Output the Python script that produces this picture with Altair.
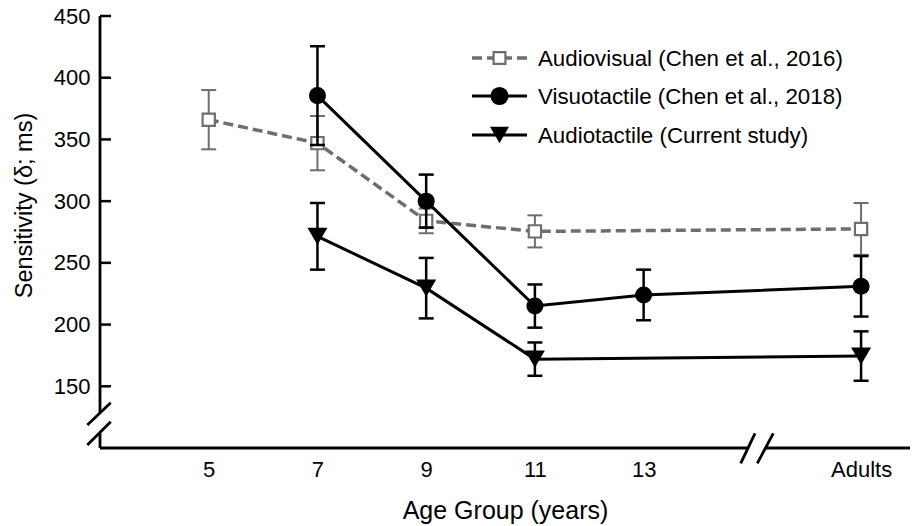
import altair as alt
import pandas as pd

# ---------------- data ----------------
age_labels = ["5", "7", "9", "11", "13", "Adults"]
age_pos = [5, 7, 9, 11, 13, 17]          # position on the (broken) age axis
pos_of = dict(zip(age_labels, age_pos))

series_names = [
    "Audiovisual (Chen et al., 2016)",
    "Visuotactile (Chen et al., 2018)",
    "Audiotactile (Current study)",
]

av_ages = ["5", "7", "9", "11", "Adults"]
av_mean = [366, 347, 284, 275.5, 277.5]
av_err = [24, 22, 10, 13, 21]

vt_ages = ["7", "9", "11", "13", "Adults"]
vt_mean = [385.5, 300, 215, 224, 231]
vt_err = [40, 21.5, 17.5, 20.5, 24.5]

at_ages = ["7", "9", "11", "Adults"]
at_mean = [271.5, 229.5, 172, 174.5]
at_err = [27, 24.5, 13.5, 20]

y_ticks = [150, 200, 250, 300, 350, 400, 450]

# ---------------- styles ----------------
FONT = "Liberation Sans"
GRAY = "#6e6e6e"
W, H = 810, 432

xscale = alt.Scale(domain=[3, 17.9], nice=False, zero=False)
yscale = alt.Scale(domain=[100, 450], nice=False, zero=False)

label_expr = "datum.label"
for p, l in zip(age_pos, age_labels):
    if str(p) != l:
        label_expr = f"datum.value == {p} ? '{l}' : ({label_expr})"

xaxis = alt.Axis(values=age_pos, labelExpr=label_expr, domain=False, ticks=False,
                 tickSize=0, grid=False, labelFontSize=22, labelBaseline="alphabetic",
                 labelPadding=28, labelColor="black", title="Age Group (years)",
                 titleFontSize=25, titleFontWeight="normal", titleColor="black",
                 titleBaseline="alphabetic", titleY=70)
yaxis = alt.Axis(values=y_ticks, domain=False, ticks=False, tickSize=0, grid=False,
                 labelFontSize=22, labelPadding=10, labelColor="black",
                 title="Sensitivity (δ; ms)", titleFontSize=23.5, titleFontWeight="normal",
                 titleColor="black", titleBaseline="alphabetic", titleAlign="center",
                 titleAngle=-90, titleX=-69, titleY=189)


def X():
    return alt.X("x:Q", scale=xscale, axis=xaxis)


def Yf(field):
    return alt.Y(f"{field}:Q", scale=yscale, axis=yaxis)


def series_layers(ages, mean, err, color, shape, dash, lw, ew, size, fill, sw):
    df = pd.DataFrame({
        "age": ages,
        "x": [pos_of[a] for a in ages],
        "mean": mean,
        "lo": [m - e for m, e in zip(mean, err)],
        "hi": [m + e for m, e in zip(mean, err)],
    })
    base = alt.Chart(df)
    line_kw = dict(color=color, strokeWidth=lw)
    if dash:
        line_kw["strokeDash"] = dash
    line = base.mark_line(**line_kw).encode(x=X(), y=Yf("mean"))
    bar = base.mark_rule(color=color, strokeWidth=ew).encode(x=X(), y=Yf("lo"), y2="hi:Q")
    cap_lo = base.mark_tick(orient="horizontal", size=15, thickness=ew, color=color,
                            opacity=1).encode(x=X(), y=Yf("lo"))
    cap_hi = base.mark_tick(orient="horizontal", size=15, thickness=ew, color=color,
                            opacity=1).encode(x=X(), y=Yf("hi"))
    pts = base.mark_point(shape=shape, filled=True, fill=fill, stroke=color,
                          strokeWidth=sw, size=size, opacity=1).encode(x=X(), y=Yf("mean"))
    return [line, bar, cap_lo, cap_hi, pts]


styles = [
    dict(color=GRAY, shape="square", dash=[10, 5], lw=3.5, ew=2, size=150, fill="white", sw=2.2),
    dict(color="black", shape="circle", dash=None, lw=3, ew=2.5, size=290, fill="black", sw=0),
    dict(color="black", shape="triangle-down", dash=None, lw=3, ew=2.5, size=400, fill="black", sw=0),
]

layers = []
layers += series_layers(av_ages, av_mean, av_err, **styles[0])
layers += series_layers(vt_ages, vt_mean, vt_err, **styles[1])
layers += series_layers(at_ages, at_mean, at_err, **styles[2])

# ---------------- axes with breaks ----------------
one = alt.Chart(pd.DataFrame({"k": [0]}))
AX = dict(color="black", strokeWidth=2.8)
axis_parts = [
    # y axis line (broken)
    one.mark_rule(**AX).encode(x=alt.value(0), y=alt.value(0), y2=alt.value(397)),
    one.mark_rule(**AX).encode(x=alt.value(0), y=alt.value(417), y2=alt.value(H)),
    one.mark_rule(**AX).encode(x=alt.value(-12.7), y=alt.value(409), x2=alt.value(10.7), y2=alt.value(386.7)),
    one.mark_rule(**AX).encode(x=alt.value(-12.7), y=alt.value(429), x2=alt.value(10.7), y2=alt.value(405.7)),
    # x axis line (broken)
    one.mark_rule(**AX).encode(x=alt.value(0), x2=alt.value(648), y=alt.value(H)),
    one.mark_rule(**AX).encode(x=alt.value(665), x2=alt.value(W), y=alt.value(H)),
    one.mark_rule(**AX).encode(x=alt.value(640.7), y=alt.value(447.3), x2=alt.value(655), y2=alt.value(417.3)),
    one.mark_rule(**AX).encode(x=alt.value(657.3), y=alt.value(447.3), x2=alt.value(673.3), y2=alt.value(417.3)),
]
yt = alt.Chart(pd.DataFrame({"v": y_ticks})).mark_rule(color="black", strokeWidth=2.5).encode(
    y=alt.Y("v:Q", scale=yscale, axis=yaxis), x=alt.value(0), x2=alt.value(11))
axis_parts.append(yt)

# ---------------- legend ----------------
legend_rows_y = [42, 80, 119]
legend_sizes = [140, 330, 360]
legend_parts = []
for name, st, ly, lsz in zip(series_names, styles, legend_rows_y, legend_sizes):
    lc = alt.Chart(pd.DataFrame({"label": [name]}))
    kw = dict(color=st["color"], strokeWidth=st["lw"])
    if st["dash"]:
        kw["strokeDash"] = st["dash"]
    legend_parts.append(lc.mark_rule(**kw).encode(x=alt.value(372), x2=alt.value(427), y=alt.value(ly)))
    legend_parts.append(lc.mark_point(shape=st["shape"], filled=True, fill=st["fill"], stroke=st["color"],
                                      strokeWidth=st["sw"], size=lsz, opacity=1).encode(
        x=alt.value(399.5), y=alt.value(ly)))
    legend_parts.append(lc.mark_text(align="left", baseline="middle", fontSize=22.3, font=FONT,
                                     color="black").encode(
        x=alt.value(438), y=alt.value(ly + 1), text="label:N"))

chart = alt.layer(*axis_parts, *layers, *legend_parts).properties(
    width=W, height=H,
    padding={"left": 100, "top": 16, "right": 2, "bottom": 78},
    autosize=alt.AutoSizeParams(type="none"),
).configure(font=FONT).configure_view(stroke=None)

chart.save("out.html", embed_options={"renderer": "svg", "actions": False})
